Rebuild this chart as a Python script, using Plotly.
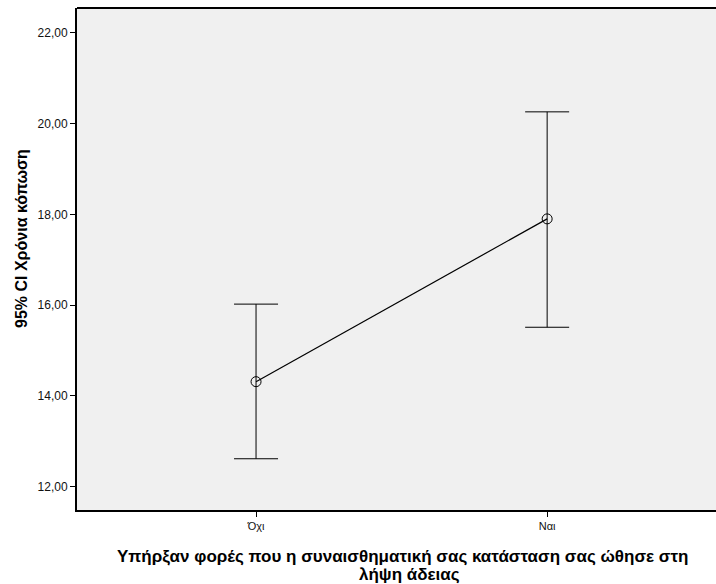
import plotly.graph_objects as go

categories = ["Όχι", "Ναι"]
means = [14.31, 17.90]
lower = [12.61, 15.51]
upper = [16.02, 20.26]
y_ticks = [12, 14, 16, 18, 20, 22]
y_tick_labels = ["12,00", "14,00", "16,00", "18,00", "20,00", "22,00"]

err_plus = [u - m for u, m in zip(upper, means)]
err_minus = [m - l for m, l in zip(means, lower)]

fig = go.Figure()
fig.add_trace(go.Scatter(
    x=categories, y=means, mode="lines+markers",
    line=dict(color="black", width=1.2),
    marker=dict(symbol="circle-open", size=10, color="black", line=dict(width=1)),
    error_y=dict(type="data", symmetric=False, array=err_plus, arrayminus=err_minus,
                 color="black", thickness=1, width=22),
    showlegend=False,
))

font = "Liberation Sans, Arial, sans-serif"
fig.update_layout(
    width=716, height=584,
    margin=dict(l=77, r=0, t=8, b=74),
    paper_bgcolor="white", plot_bgcolor="#f0f0f0",
    font=dict(family=font, size=12, color="black"),
    xaxis=dict(type="category", range=[-0.615, 1.58], showgrid=False, zeroline=False,
               showline=True, linecolor="black", linewidth=2, mirror=False,
               ticks="outside", ticklen=5, tickcolor="black",
               tickfont=dict(size=11, color="#111")),
    yaxis=dict(range=[11.48, 22.55], showgrid=False, zeroline=False,
               showline=True, linecolor="black", linewidth=2,
               ticks="outside", ticklen=5, tickcolor="black",
               tickvals=y_ticks, ticktext=y_tick_labels,
               tickfont=dict(size=12, color="#111")),
    shapes=[
        dict(type="line", xref="paper", yref="paper", x0=0, x1=1.01, y0=1, y1=1,
             line=dict(color="black", width=2)),
    ],
    annotations=[
        dict(text="<b>95% CI Χρόνια κόπωση</b>", xref="paper", yref="paper",
             x=-0.086, y=0.54, textangle=-90, showarrow=False,
             font=dict(size=16, family=font, color="black"), xanchor="center", yanchor="middle"),
        dict(text="<b>Υπήρξαν φορές που η συναισθηματική σας κατάσταση σας ώθησε στη</b>",
             xref="paper", yref="paper", x=0.51, y=-0.0936, showarrow=False,
             font=dict(size=17, family=font, color="black"), xanchor="center", yanchor="middle"),
        dict(text="<b>λήψη άδειας</b>",
             xref="paper", yref="paper", x=0.52, y=-0.1275, showarrow=False,
             font=dict(size=17, family=font, color="black"), xanchor="center", yanchor="middle"),
    ],
)

fig.write_html("out.html",
               post_script="document.documentElement.style.overflow='hidden';document.body.style.overflow='hidden';document.body.style.margin='0';")
